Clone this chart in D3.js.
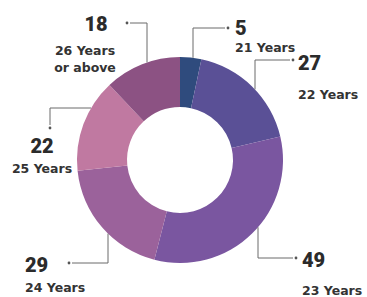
<!DOCTYPE html>
<html>
<head>
<meta charset="utf-8">
<script src="https://cdn.jsdelivr.net/npm/d3@7"></script>
<style>
    body { margin: 0; background: #ffffff; }
    svg { display: block; }
    .num { font-family: Roboto, "DejaVu Sans", sans-serif; font-weight: 900; font-size: 20px; fill: #2b2b2b; }
    .cat { font-family: "DejaVu Sans", sans-serif; font-weight: bold; font-size: 12.5px; fill: #333333; }
    .callout { fill: none; stroke: #6b6b6b; stroke-width: 1; }
</style>
</head>
<body>
<svg id="donut"></svg>
<script>
// chart data, clockwise from 12 o'clock
let categories = ["21 Years", "22 Years", "23 Years", "24 Years", "25 Years", "26 Years or above"];
let values = [5, 27, 49, 29, 22, 18];
let colors = ["#2f4b7d", "#5a5096", "#7a56a0", "#9b629b", "#c079a1", "#8c5283"];

let w = 367;
let h = 297;
let center = { x: 180, y: 160 };
let outerR = 103;
let innerR = 53;

// where each callout goes: the elbow runs along a vertical (x) or horizontal (y) line
// from the ring edge, then turns to the dot at "end". label sits at "text".
let callouts = [
    { along: "x", at: 193, end: [228, 28], text: [235, 35], anchor: "start", catDy: 17 },
    { along: "x", at: 255, end: [293, 60], text: [298, 70], anchor: "start", catDy: 29 },
    { along: "x", at: 258, end: [296, 258], text: [302, 267], anchor: "start", catDy: 28 },
    { along: "x", at: 108, end: [69, 263], text: [25, 272], anchor: "start", catDy: 20 },
    { along: "y", at: 108, end: [50, 128], text: [42, 153], anchor: "middle", catDy: 20 },
    { along: "x", at: 147, end: [127, 23], text: [96, 31], anchor: "middle", catDy: 24, catDx: -11 }
];

// Creates the SVG
function createSvg() {
    let svg = d3.select("#donut")
        .attr("width", w)
        .attr("height", h);
    return svg;
}

// Draws the donut slices
function drawSlices(svg, arcs) {
    let arc = d3.arc()
        .innerRadius(innerR)
        .outerRadius(outerR);

    svg.append("g")
        .attr("transform", "translate(" + center.x + ", " + center.y + ")")
        .selectAll("path")
        .data(arcs)
        .enter()
        .append("path")
        .attr("d", arc)
        .attr("fill", (d, i) => colors[i]);
}

// point on the outer edge of the ring hit by a vertical or horizontal line
function ringPoint(c, arcD) {
    let mid = (arcD.startAngle + arcD.endAngle) / 2;
    if (c.along === "x") {
        let dx = c.at - center.x;
        let dy = Math.sqrt(outerR * outerR - dx * dx);
        let sign = Math.cos(mid) > 0 ? -1 : 1; // top half goes up
        return [c.at, center.y + sign * dy];
    } else {
        let dy = c.at - center.y;
        let dx = Math.sqrt(outerR * outerR - dy * dy);
        let sign = Math.sin(mid) > 0 ? 1 : -1;
        return [center.x + sign * dx, c.at];
    }
}

// Draws the elbow lines, dots and labels
function drawCallouts(svg, arcs) {
    let g = svg.append("g");

    arcs.forEach((d, i) => {
        let c = callouts[i];
        let p0 = ringPoint(c, d);
        let corner = c.along === "x" ? [c.at, c.end[1]] : [c.end[0], c.at];
        // line stops a little short of the dot
        let gap = 3;
        let tip = c.end.slice();
        if (corner[0] === c.end[0]) tip[1] += (corner[1] < c.end[1] ? -gap : gap);
        else tip[0] += (corner[0] < c.end[0] ? -gap : gap);

        g.append("path")
            .attr("class", "callout")
            .attr("d", d3.line()([p0, corner, tip]));

        g.append("circle")
            .attr("cx", c.end[0])
            .attr("cy", c.end[1])
            .attr("r", 1.4)
            .attr("fill", "#555555");

        g.append("text")
            .attr("class", "num")
            .attr("x", c.text[0])
            .attr("y", c.text[1])
            .attr("text-anchor", c.anchor)
            .text(values[i]);

        // category label, split "or above" onto its own line
        let parts = categories[i].replace(" or ", "\nor ").split("\n");
        let t = g.append("text")
            .attr("class", "cat")
            .attr("text-anchor", c.anchor)
            .attr("x", c.text[0] + (c.catDx || 0))
            .attr("y", c.text[1] + c.catDy);
        parts.forEach((s, j) => {
            t.append("tspan")
                .attr("x", c.text[0] + (c.catDx || 0))
                .attr("dy", j === 0 ? 0 : 17)
                .text(s);
        });
    });
}

function drawChart() {
    let svg = createSvg();
    let pie = d3.pie().sort(null).value((d) => d);
    let arcs = pie(values);
    drawSlices(svg, arcs);
    drawCallouts(svg, arcs);
}

drawChart();
</script>
</body>
</html>
